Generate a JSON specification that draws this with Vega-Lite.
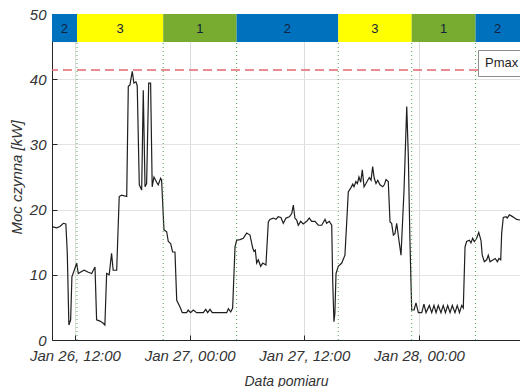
{
  "$schema": "https://vega.github.io/schema/vega-lite/v6.json",
  "width": 468,
  "height": 326,
  "autosize": {"type": "none"},
  "padding": {"left": 52, "top": 14, "right": 0, "bottom": 47},
  "background": "white",
  "config": {"view": {"stroke": null}, "font": "Liberation Sans"},
  "datasets": {
    "power": [
      {"t": "2023-01-26T09:36", "p": 17.4}, {"t": "2023-01-26T10:05", "p": 17.2}, {"t": "2023-01-26T10:26", "p": 17.4},
      {"t": "2023-01-26T10:47", "p": 17.9}, {"t": "2023-01-26T11:03", "p": 17.8}, {"t": "2023-01-26T11:12", "p": 13.3},
      {"t": "2023-01-26T11:22", "p": 2.3}, {"t": "2023-01-26T11:33", "p": 3.1}, {"t": "2023-01-26T11:41", "p": 9.7},
      {"t": "2023-01-26T12:00", "p": 11.0}, {"t": "2023-01-26T12:11", "p": 11.8}, {"t": "2023-01-26T12:21", "p": 10.2},
      {"t": "2023-01-26T12:42", "p": 10.5}, {"t": "2023-01-26T12:58", "p": 10.7}, {"t": "2023-01-26T13:24", "p": 10.4},
      {"t": "2023-01-26T13:45", "p": 10.2}, {"t": "2023-01-26T14:06", "p": 11.2}, {"t": "2023-01-26T14:16", "p": 3.1},
      {"t": "2023-01-26T14:37", "p": 2.9}, {"t": "2023-01-26T14:56", "p": 2.6}, {"t": "2023-01-26T15:08", "p": 2.3},
      {"t": "2023-01-26T15:19", "p": 10.2}, {"t": "2023-01-26T15:35", "p": 10.0}, {"t": "2023-01-26T15:50", "p": 13.3},
      {"t": "2023-01-26T16:00", "p": 10.7}, {"t": "2023-01-26T16:22", "p": 10.7}, {"t": "2023-01-26T16:38", "p": 22.0},
      {"t": "2023-01-26T16:53", "p": 22.2}, {"t": "2023-01-26T17:25", "p": 22.0}, {"t": "2023-01-26T17:35", "p": 38.9},
      {"t": "2023-01-26T17:45", "p": 39.1}, {"t": "2023-01-26T18:00", "p": 41.2}, {"t": "2023-01-26T18:10", "p": 39.4},
      {"t": "2023-01-26T18:23", "p": 39.6}, {"t": "2023-01-26T18:31", "p": 39.0}, {"t": "2023-01-26T18:44", "p": 23.8},
      {"t": "2023-01-26T18:59", "p": 23.0}, {"t": "2023-01-26T19:09", "p": 38.3}, {"t": "2023-01-26T19:20", "p": 23.5},
      {"t": "2023-01-26T19:30", "p": 24.0}, {"t": "2023-01-26T19:43", "p": 39.4}, {"t": "2023-01-26T19:55", "p": 39.4},
      {"t": "2023-01-26T20:05", "p": 23.5}, {"t": "2023-01-26T20:16", "p": 25.0}, {"t": "2023-01-26T20:33", "p": 24.2},
      {"t": "2023-01-26T20:43", "p": 23.8}, {"t": "2023-01-26T20:58", "p": 24.8}, {"t": "2023-01-26T21:04", "p": 24.5},
      {"t": "2023-01-26T21:19", "p": 16.9}, {"t": "2023-01-26T21:36", "p": 16.6}, {"t": "2023-01-26T21:46", "p": 15.1},
      {"t": "2023-01-26T22:01", "p": 14.8}, {"t": "2023-01-26T22:13", "p": 13.5}, {"t": "2023-01-26T22:28", "p": 13.5},
      {"t": "2023-01-26T22:39", "p": 6.1}, {"t": "2023-01-26T22:59", "p": 5.1}, {"t": "2023-01-26T23:14", "p": 4.2},
      {"t": "2023-01-26T23:41", "p": 4.2}, {"t": "2023-01-26T23:51", "p": 4.6}, {"t": "2023-01-27T00:06", "p": 4.2},
      {"t": "2023-01-27T00:23", "p": 4.6}, {"t": "2023-01-27T00:44", "p": 4.2}, {"t": "2023-01-27T01:26", "p": 4.2},
      {"t": "2023-01-27T01:41", "p": 4.7}, {"t": "2023-01-27T01:53", "p": 4.2}, {"t": "2023-01-27T02:08", "p": 4.7},
      {"t": "2023-01-27T02:22", "p": 4.2}, {"t": "2023-01-27T03:53", "p": 4.2}, {"t": "2023-01-27T04:03", "p": 4.8},
      {"t": "2023-01-27T04:18", "p": 4.3}, {"t": "2023-01-27T04:30", "p": 4.9}, {"t": "2023-01-27T04:45", "p": 14.3},
      {"t": "2023-01-27T04:55", "p": 15.3}, {"t": "2023-01-27T05:16", "p": 15.4}, {"t": "2023-01-27T05:37", "p": 15.6},
      {"t": "2023-01-27T05:58", "p": 16.4}, {"t": "2023-01-27T06:19", "p": 16.1}, {"t": "2023-01-27T06:36", "p": 14.1},
      {"t": "2023-01-27T06:44", "p": 13.6}, {"t": "2023-01-27T06:52", "p": 13.8}, {"t": "2023-01-27T07:01", "p": 11.8},
      {"t": "2023-01-27T07:11", "p": 12.3}, {"t": "2023-01-27T07:26", "p": 11.3}, {"t": "2023-01-27T07:39", "p": 11.8},
      {"t": "2023-01-27T07:59", "p": 11.5}, {"t": "2023-01-27T08:14", "p": 18.1}, {"t": "2023-01-27T08:24", "p": 18.5},
      {"t": "2023-01-27T08:45", "p": 18.7}, {"t": "2023-01-27T09:02", "p": 18.5}, {"t": "2023-01-27T09:16", "p": 18.9},
      {"t": "2023-01-27T09:33", "p": 18.8}, {"t": "2023-01-27T09:48", "p": 17.9}, {"t": "2023-01-27T10:05", "p": 18.7},
      {"t": "2023-01-27T10:26", "p": 18.9}, {"t": "2023-01-27T10:41", "p": 19.4}, {"t": "2023-01-27T10:51", "p": 20.7},
      {"t": "2023-01-27T11:01", "p": 18.7}, {"t": "2023-01-27T11:12", "p": 18.4}, {"t": "2023-01-27T11:22", "p": 17.6},
      {"t": "2023-01-27T11:37", "p": 18.2}, {"t": "2023-01-27T11:53", "p": 17.8}, {"t": "2023-01-27T12:15", "p": 18.2},
      {"t": "2023-01-27T12:31", "p": 18.7}, {"t": "2023-01-27T12:46", "p": 18.2}, {"t": "2023-01-27T13:07", "p": 18.2},
      {"t": "2023-01-27T13:28", "p": 17.6}, {"t": "2023-01-27T13:49", "p": 17.6}, {"t": "2023-01-27T14:10", "p": 18.5},
      {"t": "2023-01-27T14:20", "p": 17.9}, {"t": "2023-01-27T14:37", "p": 18.2}, {"t": "2023-01-27T14:52", "p": 17.6},
      {"t": "2023-01-27T14:58", "p": 9.2}, {"t": "2023-01-27T15:06", "p": 2.8}, {"t": "2023-01-27T15:12", "p": 4.1},
      {"t": "2023-01-27T15:19", "p": 10.2}, {"t": "2023-01-27T15:33", "p": 11.3}, {"t": "2023-01-27T15:55", "p": 11.8},
      {"t": "2023-01-27T16:15", "p": 13.0}, {"t": "2023-01-27T16:26", "p": 18.0}, {"t": "2023-01-27T16:36", "p": 22.7},
      {"t": "2023-01-27T16:51", "p": 23.3}, {"t": "2023-01-27T17:04", "p": 23.9}, {"t": "2023-01-27T17:12", "p": 23.5},
      {"t": "2023-01-27T17:24", "p": 24.3}, {"t": "2023-01-27T17:33", "p": 24.0}, {"t": "2023-01-27T17:43", "p": 25.0},
      {"t": "2023-01-27T17:54", "p": 24.2}, {"t": "2023-01-27T18:04", "p": 26.1}, {"t": "2023-01-27T18:15", "p": 23.5},
      {"t": "2023-01-27T18:27", "p": 24.0}, {"t": "2023-01-27T18:38", "p": 24.5}, {"t": "2023-01-27T18:48", "p": 24.9},
      {"t": "2023-01-27T18:59", "p": 24.5}, {"t": "2023-01-27T19:09", "p": 26.6}, {"t": "2023-01-27T19:19", "p": 24.8},
      {"t": "2023-01-27T19:30", "p": 24.0}, {"t": "2023-01-27T19:41", "p": 24.5}, {"t": "2023-01-27T19:55", "p": 23.8},
      {"t": "2023-01-27T20:12", "p": 23.5}, {"t": "2023-01-27T20:22", "p": 23.8}, {"t": "2023-01-27T20:33", "p": 24.6},
      {"t": "2023-01-27T20:47", "p": 24.3}, {"t": "2023-01-27T20:58", "p": 18.1}, {"t": "2023-01-27T21:08", "p": 17.9},
      {"t": "2023-01-27T21:19", "p": 16.1}, {"t": "2023-01-27T21:29", "p": 16.3}, {"t": "2023-01-27T21:40", "p": 17.9},
      {"t": "2023-01-27T21:54", "p": 15.3}, {"t": "2023-01-27T22:07", "p": 13.0}, {"t": "2023-01-27T22:26", "p": 23.0},
      {"t": "2023-01-27T22:43", "p": 35.8}, {"t": "2023-01-27T22:53", "p": 28.1}, {"t": "2023-01-27T23:03", "p": 15.3},
      {"t": "2023-01-27T23:14", "p": 4.6}, {"t": "2023-01-27T23:29", "p": 4.6}, {"t": "2023-01-27T23:41", "p": 5.7},
      {"t": "2023-01-27T23:56", "p": 4.2}, {"t": "2023-01-28T00:17", "p": 4.2}, {"t": "2023-01-28T00:31", "p": 5.5},
      {"t": "2023-01-28T00:44", "p": 4.2}, {"t": "2023-01-28T01:05", "p": 5.3}, {"t": "2023-01-28T01:20", "p": 4.2},
      {"t": "2023-01-28T01:34", "p": 5.3}, {"t": "2023-01-28T01:47", "p": 4.2}, {"t": "2023-01-28T02:01", "p": 5.3},
      {"t": "2023-01-28T02:18", "p": 4.2}, {"t": "2023-01-28T02:32", "p": 5.3}, {"t": "2023-01-28T02:46", "p": 4.2},
      {"t": "2023-01-28T03:00", "p": 5.3}, {"t": "2023-01-28T03:15", "p": 4.2}, {"t": "2023-01-28T03:29", "p": 5.3},
      {"t": "2023-01-28T03:46", "p": 4.2}, {"t": "2023-01-28T04:00", "p": 5.3}, {"t": "2023-01-28T04:14", "p": 4.2},
      {"t": "2023-01-28T04:28", "p": 5.3}, {"t": "2023-01-28T04:38", "p": 4.9}, {"t": "2023-01-28T04:49", "p": 14.3},
      {"t": "2023-01-28T04:59", "p": 15.1}, {"t": "2023-01-28T05:16", "p": 15.3}, {"t": "2023-01-28T05:26", "p": 14.9},
      {"t": "2023-01-28T05:37", "p": 15.6}, {"t": "2023-01-28T05:47", "p": 15.1}, {"t": "2023-01-28T06:02", "p": 15.6},
      {"t": "2023-01-28T06:15", "p": 16.5}, {"t": "2023-01-28T06:29", "p": 15.3}, {"t": "2023-01-28T06:37", "p": 13.0},
      {"t": "2023-01-28T06:50", "p": 12.0}, {"t": "2023-01-28T07:05", "p": 12.3}, {"t": "2023-01-28T07:15", "p": 13.0},
      {"t": "2023-01-28T07:26", "p": 12.0}, {"t": "2023-01-28T07:46", "p": 12.3}, {"t": "2023-01-28T07:59", "p": 12.5},
      {"t": "2023-01-28T08:12", "p": 12.0}, {"t": "2023-01-28T08:22", "p": 12.5}, {"t": "2023-01-28T08:33", "p": 12.3},
      {"t": "2023-01-28T08:39", "p": 16.4}, {"t": "2023-01-28T08:49", "p": 18.8}, {"t": "2023-01-28T09:06", "p": 18.9},
      {"t": "2023-01-28T09:14", "p": 18.7}, {"t": "2023-01-28T09:27", "p": 19.2}, {"t": "2023-01-28T09:42", "p": 19.0},
      {"t": "2023-01-28T09:56", "p": 18.8}, {"t": "2023-01-28T10:13", "p": 18.5}, {"t": "2023-01-28T10:34", "p": 18.4}
    ],
    "zones": [
      {"start": "2023-01-26T09:36", "end": "2023-01-26T12:13", "mid": "2023-01-26T10:54", "zone": "2"},
      {"start": "2023-01-26T12:13", "end": "2023-01-26T21:14", "mid": "2023-01-26T16:43", "zone": "3"},
      {"start": "2023-01-26T21:14", "end": "2023-01-27T04:55", "mid": "2023-01-27T01:04", "zone": "1"},
      {"start": "2023-01-27T04:55", "end": "2023-01-27T15:33", "mid": "2023-01-27T10:14", "zone": "2"},
      {"start": "2023-01-27T15:33", "end": "2023-01-27T23:14", "mid": "2023-01-27T19:23", "zone": "3"},
      {"start": "2023-01-27T23:14", "end": "2023-01-28T05:55", "mid": "2023-01-28T02:34", "zone": "1"},
      {"start": "2023-01-28T05:55", "end": "2023-01-28T10:34", "mid": "2023-01-28T08:14", "zone": "2"}
    ],
    "bounds": [
      {"b": "2023-01-26T12:13"}, {"b": "2023-01-26T21:14"}, {"b": "2023-01-27T04:55"},
      {"b": "2023-01-27T15:33"}, {"b": "2023-01-27T23:14"}, {"b": "2023-01-28T05:55"}
    ],
    "limit": [{"name": "Pmax", "value": 41.4}]
  },
  "layer": [
    {
      "data": {"name": "power"},
      "mark": {"type": "line", "color": "#1f1f1f", "strokeWidth": 1.2, "clip": true},
      "encoding": {
        "x": {
          "field": "t", "type": "temporal", "title": "Data pomiaru",
          "scale": {"domain": [{"year": 2023, "month": 1, "date": 26, "hours": 9, "minutes": 36}, {"year": 2023, "month": 1, "date": 28, "hours": 10, "minutes": 34}]},
          "axis": {
            "title": "Data pomiaru",
            "values": [
              {"year": 2023, "month": 1, "date": 26, "hours": 12},
              {"year": 2023, "month": 1, "date": 27, "hours": 0},
              {"year": 2023, "month": 1, "date": 27, "hours": 12},
              {"year": 2023, "month": 1, "date": 28, "hours": 0}
            ],
            "format": "%b %d, %H:%M",
            "labelFontSize": 15, "labelFontStyle": "italic", "labelColor": "#333333",
            "labelPadding": 13, "labelFlush": false,
            "titleFontSize": 14, "titleFontStyle": "italic", "titleFontWeight": "normal", "titleColor": "#333333",
            "titlePadding": 11,
            "grid": true, "gridColor": "#dcdcdc",
            "domainColor": "#262626", "tickColor": "#262626", "tickSize": -5
          }
        },
        "y": {
          "field": "p", "type": "quantitative", "title": "Moc czynna [kW]",
          "scale": {"domain": [0, 50], "nice": false},
          "axis": {
            "title": "Moc czynna [kW]",
            "values": [0, 10, 20, 30, 40, 50],
            "labelFontSize": 15, "labelFontStyle": "italic", "labelColor": "#333333",
            "labelPadding": 11,
            "titleFontSize": 15, "titleFontStyle": "italic", "titleFontWeight": "normal", "titleColor": "#333333",
            "titlePadding": 5,
            "grid": true, "gridColor": "#e3e3e3",
            "domainColor": "#262626", "tickColor": "#262626", "tickSize": -5
          }
        }
      }
    },
    {
      "data": {"name": "bounds"},
      "mark": {"type": "rule", "color": "#4ea64e", "strokeWidth": 1, "strokeDash": [1, 3]},
      "encoding": {
        "x": {"field": "b", "type": "temporal", "title": "Data pomiaru"},
        "y": {"datum": 0, "type": "quantitative", "title": "Moc czynna [kW]"},
        "y2": {"datum": 45.7}
      }
    },
    {
      "data": {"name": "zones"},
      "mark": {"type": "rect"},
      "encoding": {
        "x": {"field": "start", "type": "temporal", "title": "Data pomiaru"},
        "x2": {"field": "end"},
        "y": {"datum": 45.7, "type": "quantitative", "title": "Moc czynna [kW]"},
        "y2": {"datum": 50},
        "fill": {"field": "zone", "type": "nominal", "scale": {"domain": ["1", "2", "3"], "range": ["#77AC30", "#0072BD", "#FFFF00"]}, "legend": null}
      }
    },
    {
      "data": {"name": "zones"},
      "mark": {"type": "text", "fontSize": 13, "color": "#14213d", "baseline": "middle", "align": "center", "font": "Liberation Sans"},
      "encoding": {
        "x": {"field": "mid", "type": "temporal", "title": "Data pomiaru"},
        "y": {"datum": 47.7, "type": "quantitative", "title": "Moc czynna [kW]"},
        "text": {"field": "zone", "type": "nominal"}
      }
    },
    {
      "data": {"name": "limit"},
      "mark": {"type": "rule", "strokeWidth": 1.5, "strokeDash": [9, 5]},
      "encoding": {
        "y": {"field": "value", "type": "quantitative", "title": "Moc czynna [kW]"},
        "stroke": {
          "field": "name", "type": "nominal",
          "scale": {"domain": ["Pmax"], "range": ["#e3676f"]},
          "legend": {
            "orient": "none", "legendX": 426, "legendY": 36,
            "title": null, "fillColor": "white", "strokeColor": "#8c8c8c",
            "padding": 6, "labelFontSize": 13, "labelColor": "#1f1f1f", "labelFont": "Liberation Sans",
            "symbolType": "circle", "symbolOpacity": 0, "symbolSize": 0, "symbolStrokeWidth": 0, "labelOffset": -12
          }
        }
      }
    }
  ]
}
